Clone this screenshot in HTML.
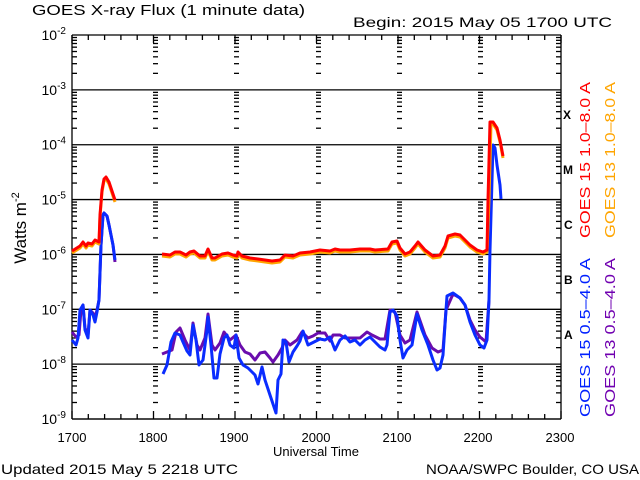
<!DOCTYPE html>
<html><head><meta charset="utf-8"><style>
html,body{margin:0;padding:0;background:#fff}
svg{display:block}
text{font-family:"Liberation Sans",sans-serif}
</style></head><body>
<svg width="640" height="480" viewBox="0 0 640 480" xmlns="http://www.w3.org/2000/svg">
<rect width="640" height="480" fill="#fff"/>
<text x="32" y="15" font-size="15" textLength="273" lengthAdjust="spacingAndGlyphs">GOES X-ray Flux (1 minute data)</text>
<text x="353" y="27" font-size="14" textLength="259" lengthAdjust="spacingAndGlyphs">Begin: 2015 May 05 1700 UTC</text>
<g id="ax" stroke="#000" stroke-width="1.3" fill="none"></g>
<g font-size="14" text-anchor="end" id="ylab"></g>
<text transform="translate(26,228) rotate(-90)" font-size="17" text-anchor="middle">Watts m<tspan dy="-7" font-size="11">-2</tspan></text>
<g font-size="13" text-anchor="middle">
<text x="72" y="442">1700</text><text x="153" y="442">1800</text><text x="234" y="442">1900</text><text x="316" y="442">2000</text><text x="397" y="442">2100</text><text x="478" y="442">2200</text><text x="560" y="442">2300</text>
<text x="316" y="456">Universal Time</text>
</g>
<text x="1" y="474" font-size="14" textLength="237" lengthAdjust="spacingAndGlyphs">Updated 2015 May  5 2218 UTC</text>
<text x="426" y="474" font-size="14" textLength="213" lengthAdjust="spacingAndGlyphs">NOAA/SWPC Boulder, CO USA</text>
<g font-family="Liberation Serif,serif" font-weight="bold" font-size="12">
<text x="563" y="119">X</text><text x="563" y="174">M</text><text x="564" y="229">C</text><text x="564" y="284">B</text><text x="564" y="339">A</text>
</g>
<g font-size="15">
<text transform="translate(590,238) rotate(-90)" fill="#f00" textLength="156" lengthAdjust="spacingAndGlyphs">GOES 15 1.0–8.0 A</text>
<text transform="translate(615,238) rotate(-90)" fill="#ffa500" textLength="156" lengthAdjust="spacingAndGlyphs">GOES 13 1.0–8.0 A</text>
<text transform="translate(590,417) rotate(-90)" fill="#0020ff" textLength="159" lengthAdjust="spacingAndGlyphs">GOES 15 0.5–4.0 A</text>
<text transform="translate(615,417) rotate(-90)" fill="#7000b0" textLength="159" lengthAdjust="spacingAndGlyphs">GOES 13 0.5–4.0 A</text>
</g>
<g fill="none" stroke-width="3" stroke-linejoin="round">
<!-- purple GOES13 short -->
<polyline stroke="#6a0dad" points="72,332 76,337 79,335 81,310 83,305 85,328 88,335 90,310 93,313 95,318 97,310 99,300 101,245 103,215 104,213 107,216 109,225 111,235 113,245 115,262"/>
<polyline stroke="#6a0dad" points="162,354 167,352 172,350 176,332 180,328 185,340 190,350 193,323 197,345 200,350 205,338 208,314 212,345 215,350 220,343 224,332 230,340 236,335 240,345 245,352 250,354 255,360 260,353 265,352 270,358 273,362 278,355 282,348 285,340 290,345 297,340 302,332 308,338 313,336 318,333 325,333 330,341 333,335 340,335 345,338 350,338 360,338 367,332 372,335 380,339 385,339 390,310 395,312 400,335 405,343 410,340 417,312 425,335 432,348 438,352 443,350 446,310 453,294 460,298 465,305 470,320 475,330 480,337 486,342 489,300"/>
<!-- blue GOES15 short -->
<polyline stroke="#0a2cff" points="72,340 76,345 78,338 80,310 83,305 85,330 88,338 90,310 93,315 95,322 97,312 99,300 101,245 103,215 104,213 107,216 109,225 111,235 113,245 115,260"/>
<polyline stroke="#0a2cff" points="163,374 167,365 171,342 175,333 180,335 183,342 187,351 190,355 193,325 196,340 199,365 203,360 207,330 208,317 211,345 214,378 217,378 220,354 224,338 227,335 230,345 234,348 236,335 239,358 243,365 248,368 252,372 255,375 258,384 262,367 265,380 270,395 273,404 276,413 278,380 281,374 283,340 286,342 289,362 293,352 297,346 300,341 303,331 308,345 314,342 320,339 325,340 330,337 335,350 340,340 345,336 350,342 355,340 360,345 365,340 370,337 375,342 380,347 385,350 387,345 390,312 393,310 397,316 400,340 403,358 407,350 412,345 417,314 422,330 428,345 433,360 437,370 440,368 443,355 446,310 447,296 453,293 460,298 465,305 470,322 475,335 480,345 484,348 487,340 489,300 490,250 492,180 493,145 495,148 497,165 500,185 501,199"/>
<!-- orange GOES13 long -->
<polyline stroke="#ffa500" points="72,253 80,248 83,244 86,248 88,245 92,246 95,242 99,244 100,217 102,192 104,181 106,179 109,184 112,193 115,202"/>
<polyline stroke="#ffa500" points="162,256 170,257 175,254 180,254 186,257 190,254 194,253 200,258 205,258 208,251 212,260 215,260 222,256 228,255 233,257 237,258 238,254 242,258 250,260 258,261 265,262 272,263 280,262 285,257 293,258 300,255 310,254 320,252 330,253 335,251 340,252 350,252 360,251 370,251 375,252 388,251 392,244 397,243 400,250 405,256 410,254 415,248 418,244 425,252 433,258 440,257 445,248 448,238 455,236 460,237 465,242 470,247 477,252 483,254 487,252 489,200 491,124 493,124 497,130 500,142 503,158"/>
<!-- red GOES15 long -->
<polyline stroke="#f00" points="72,251 80,246 83,242 86,246 88,243 92,244 95,240 99,242 100,215 102,190 104,179 106,177 109,182 112,191 115,200"/>
<polyline stroke="#f00" points="162,254 170,255 175,252 180,252 186,255 190,252 194,251 200,256 205,256 208,249 212,258 215,258 222,254 228,253 233,255 237,256 238,252 242,256 250,258 258,259 265,260 272,261 280,260 285,255 293,256 300,253 310,252 320,250 330,251 335,249 340,250 350,250 360,249 370,249 375,250 388,249 392,242 397,241 400,248 405,254 410,252 415,246 418,242 425,250 433,256 440,255 445,246 448,236 455,234 460,235 465,240 470,245 477,250 483,252 487,250 488,200 490,122 493,122 497,128 500,140 503,156"/>
</g>
</svg>
<script>
(function(){
var ns="http://www.w3.org/2000/svg",ax=document.getElementById("ax"),yl=document.getElementById("ylab");
function L(x1,y1,x2,y2){var l=document.createElementNS(ns,"line");l.setAttribute("x1",x1);l.setAttribute("y1",y1);l.setAttribute("x2",x2);l.setAttribute("y2",y2);ax.appendChild(l);}
var X0=72,X1=561,Y0=35,D=54.86,Yb=Y0+7*D;
L(X0,Y0,X0,Yb);L(X1,Y0,X1,Yb);L(X0,Yb,X1,Yb);
var cols=[153,234,316,397,478];
for(var k=0;k<=7;k++){var y=Y0+k*D;L(X0,y,X1,y);
 var t=document.createElementNS(ns,"text");t.setAttribute("x",66);t.setAttribute("y",y+5);t.innerHTML='10<tspan dy="-6" font-size="10">'+(-2-k)+'</tspan>';yl.appendChild(t);
 if(k<7){for(var m=2;m<=9;m++){var yy=y+D-Math.log10(m)*D;L(X0,yy,X0+5,yy);L(X1-5,yy,X1,yy);cols.forEach(function(c){L(c,yy,c+5,yy);});}}}
for(var t2=0;t2<=600;t2+=20){var x=X0+t2*(X1-X0)/600;var len=(t2%100==0)?8:5;L(x,Yb,x,Yb-len);L(x,Y0,x,Y0+len);}
})();
</script>
</body></html>
